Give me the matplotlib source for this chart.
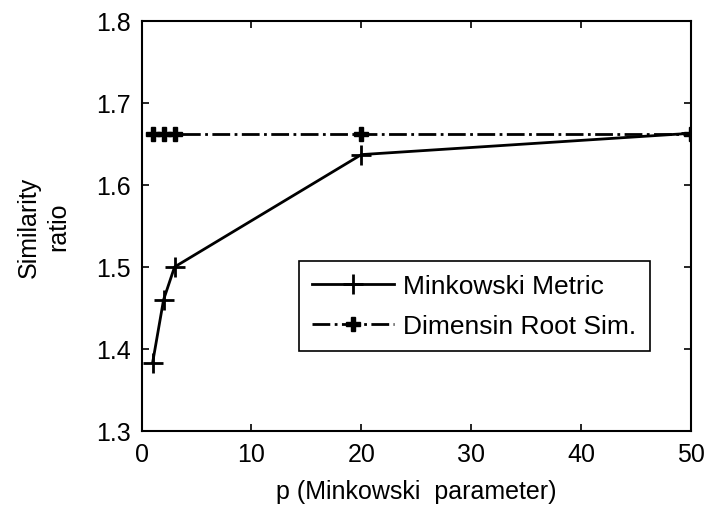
import matplotlib
matplotlib.use("Agg")
import matplotlib.pyplot as plt

# Data
p_values = [1, 2, 3, 20, 50]
minkowski = [1.383, 1.460, 1.500, 1.637, 1.663]
dim_root = [1.662, 1.662, 1.662, 1.662, 1.662]

x_ticks = [0, 10, 20, 30, 40, 50]
y_ticks = [1.3, 1.4, 1.5, 1.6, 1.7, 1.8]

plt.rcParams['font.family'] = ['Liberation Sans', 'DejaVu Sans']

fig = plt.figure(figsize=(7.08, 5.10), dpi=100)
ax = fig.add_axes([0.200, 0.153, 0.776, 0.804])

ax.plot(p_values, minkowski, color='black', linestyle='-', linewidth=2,
        marker='+', markersize=14, markeredgewidth=2, label='Minkowski Metric')
ax.plot(p_values, dim_root, color='black', linestyle='-.', linewidth=2,
        marker='P', markersize=10, markeredgewidth=1, label='Dimensin Root Sim.')

ax.set_xlim(0, 50)
ax.set_ylim(1.3, 1.8)
ax.set_xticks(x_ticks)
ax.set_yticks(y_ticks)
ax.set_yticklabels([f"{v:.1f}" for v in y_ticks])
ax.tick_params(direction='in', labelsize=18, length=5, width=1.2, top=True, right=True, pad=8)
for s in ax.spines.values():
    s.set_linewidth(1.5)

ax.set_xlabel("p (Minkowski  parameter)", fontsize=18, labelpad=9)
ax.set_ylabel("Similarity\nratio", fontsize=18, labelpad=18, linespacing=1.3)

leg = ax.legend(loc='upper right', bbox_to_anchor=(0.925, 0.415), borderaxespad=0,
                fontsize=19, frameon=True, fancybox=False, edgecolor='black', framealpha=1,
                handlelength=3.1, borderpad=0.5, labelspacing=0.6, handletextpad=0.35)
leg.get_frame().set_linewidth(1.2)

fig.savefig("out.png", dpi=100)
